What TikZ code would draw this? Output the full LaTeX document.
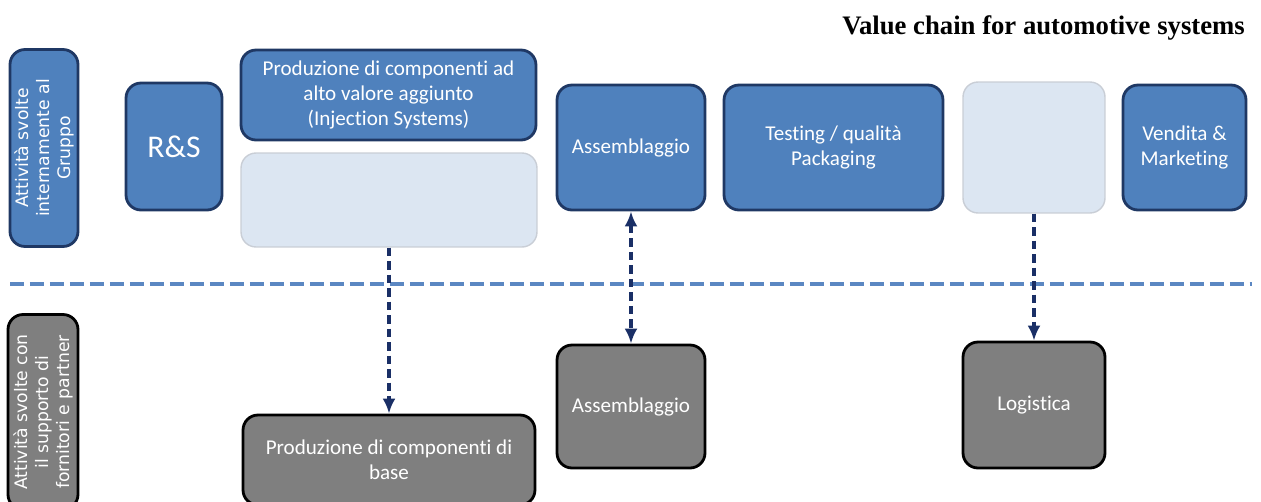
\documentclass[tikz,border=0pt]{standalone}
\usepackage{fontspec}
\setmainfont[Ligatures=NoCommon]{Carlito}
\newfontfamily\titlefont{Liberation Serif}
\newfontfamily\sidefont{DejaVu Sans}
\usetikzlibrary{arrows.meta,positioning}
\definecolor{boxblue}{HTML}{4F81BD}
\definecolor{boxnavy}{HTML}{1F3864}
\definecolor{paleblue}{HTML}{DCE6F2}
\definecolor{palegray}{HTML}{C9CED6}
\definecolor{boxgray}{HTML}{7F7F7F}
\definecolor{linknavy}{HTML}{1A2F66}
\definecolor{splitblue}{HTML}{5B87C2}

\begin{document}
\begin{tikzpicture}[x=0.02cm,y=-0.02cm,font=\fontsize{12}{14.3}\selectfont,
    >={Latex[length=3mm,width=2.6mm]}]
    % Define the styles for the blocks
    \tikzstyle{inhouse} = [rectangle, rounded corners=0.3cm, draw=boxnavy, line width=1.6pt, fill=boxblue, text=white, align=center, inner sep=0pt]
    \tikzstyle{ghost} = [rectangle, rounded corners=0.3cm, draw=palegray, line width=0.8pt, fill=paleblue, inner sep=0pt]
    \tikzstyle{partner} = [rectangle, rounded corners=0.3cm, draw=black, line width=1.6pt, fill=boxgray, text=white, align=center, inner sep=0pt]
    \tikzstyle{side} = [rotate=90, font=\sidefont\fontsize{9.8}{12}\selectfont]
    \tikzstyle{link} = [draw=linknavy, line width=2.2pt, dash pattern=on 0.17cm off 0.1cm]

    \useasboundingbox (0,0) rectangle (1261,501);
    \clip (0,0) rectangle (1261,501);

    % Title
    \node[anchor=east, font=\titlefont\bfseries\fontsize{15.2}{18}\selectfont] (title) at (1251,28) {Value chain for automotive systems};

    % Upper row: activities inside the group
    \node[inhouse, side, minimum width=3.94cm, minimum height=1.36cm] (ingroup) at (44,148) {Attività svolte\\internamente al\\Gruppo};
    \node[inhouse, minimum width=1.92cm, minimum height=2.54cm, font=\fontsize{18}{21}\selectfont] (rs) at (174,146.5) {R\&S};
    \node[inhouse, minimum width=5.9cm, minimum height=1.8cm] (prodhigh) at (388.5,95) {Produzione di componenti ad\\alto valore aggiunto\\(Injection Systems)};
    \node[ghost, minimum width=5.92cm, minimum height=1.88cm] (prodgap) at (389,200) {};
    \node[inhouse, minimum width=2.96cm, minimum height=2.5cm] (assytop) at (631,147.5) {Assemblaggio};
    \node[inhouse, minimum width=4.38cm, minimum height=2.5cm] (testing) at (833.5,147.5) {Testing / qualità\\Packaging};
    \node[ghost, minimum width=2.84cm, minimum height=2.62cm] (logigap) at (1034,147.5) {};
    \node[inhouse, minimum width=2.46cm, minimum height=2.5cm] (sales) at (1184.5,147.5) {Vendita \&\\Marketing};

    % Divider
    \coordinate (splitw) at (10,284);
    \coordinate (splite) at (1252,284);
    \draw[splitblue, line width=2.8pt, dash pattern=on 0.28cm off 0.12cm] (splitw) -- (splite);

    % Lower row: activities with suppliers and partners
    \node[partner, side, minimum width=3.9cm, minimum height=1.4cm] (withpartner) at (43,412) {Attività svolte con\\il supporto di\\fornitori e partner};
    \node[partner, minimum width=5.84cm, minimum height=1.8cm] (prodbase) at (389,460) {Produzione di componenti di\\base};
    \node[partner, minimum width=2.96cm, minimum height=2.46cm] (assybot) at (631,406.5) {Assemblaggio};
    \node[partner, minimum width=2.84cm, minimum height=2.52cm] (logist) at (1034,405) {Logistica};

    % Arrows
    \draw[link, ->] (prodgap) -- (prodbase);
    \draw[link, <->] (assytop) -- (assybot);
    \draw[link, ->] (logigap) -- (logist);
\end{tikzpicture}
\end{document}
